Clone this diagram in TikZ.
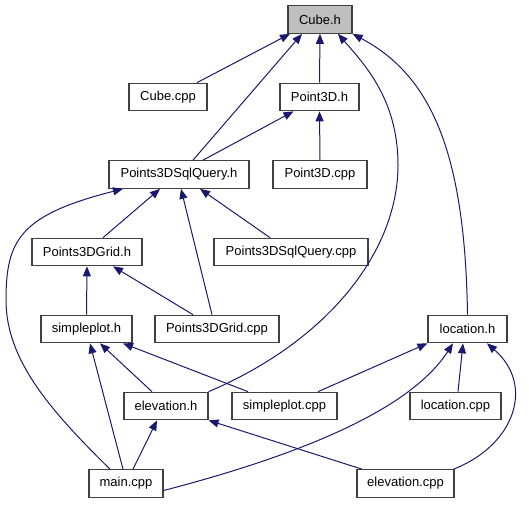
\documentclass[tikz,border=0pt]{standalone}
\usepackage{fontspec}
\setmainfont{Liberation Sans}
\usetikzlibrary{arrows.meta}
\definecolor{edgecol}{HTML}{191970}
\definecolor{boxcol}{HTML}{404040}
\definecolor{hilite}{HTML}{BFBFBF}
\begin{document}
\begin{tikzpicture}[x=1pt,y=-1pt,
  box/.style={draw=boxcol,line width=1.2pt,fill=white,rectangle,inner sep=0pt,minimum height=27.5pt,font=\fontsize{13}{15}\selectfont},
  edge/.style={draw=edgecol,line width=1pt,{Triangle[length=10pt,width=8pt]}-},
]
\useasboundingbox (0,0) rectangle (529,504);
\node[box,fill=hilite,minimum width=64pt] (cubeh) at (320,19.5) {Cube.h};
\node[box,minimum width=78pt] (cubecpp) at (168,97) {Cube.cpp};
\node[box,minimum width=79pt] (point3dh) at (319.5,97) {Point3D.h};
\node[box,minimum width=140pt] (sqlh) at (179,174.5) {Points3DSqlQuery.h};
\node[box,minimum width=94pt] (point3dcpp) at (320,174.5) {Point3D.cpp};
\node[box,minimum width=110pt] (gridh) at (87,252) {Points3DGrid.h};
\node[box,minimum width=154pt] (sqlcpp) at (291,252) {Points3DSqlQuery.cpp};
\node[box,minimum width=91pt] (simploth) at (86.5,329) {simpleplot.h};
\node[box,minimum width=124pt] (gridcpp) at (217,329) {Points3DGrid.cpp};
\node[box,minimum width=79pt] (locationh) at (467.5,329) {location.h};
\node[box,minimum width=84pt] (elevh) at (166,406) {elevation.h};
\node[box,minimum width=105pt] (simplotcpp) at (284.5,406) {simpleplot.cpp};
\node[box,minimum width=91pt] (loccpp) at (455.5,406) {location.cpp};
\node[box,minimum width=74pt] (maincpp) at (126,483.5) {main.cpp};
\node[box,minimum width=97pt] (elevcpp) at (405.5,483.5) {elevation.cpp};

% to Cube.h
\draw[edge] ([xshift=-30pt]cubeh.south) -- ([xshift=29pt]cubecpp.north);
\draw[edge] ([xshift=-18pt]cubeh.south) -- ([xshift=14pt]sqlh.north);
\draw[edge] (cubeh.south) -- (point3dh.north);
\draw[edge] ([xshift=18pt]cubeh.south) .. controls (365,65) and (398,100) .. (398,165)
  .. controls (398,250) and (330,340) .. (elevh.north east);
\draw[edge] (cubeh.south east) .. controls (430,75) and (465,150) .. (locationh.north);
% to Point3D.h
\draw[edge] ([xshift=-26pt]point3dh.south) -- ([xshift=24pt]sqlh.north);
\draw[edge] (point3dh.south) -- (point3dcpp.north);
% to Points3DSqlQuery.h
\draw[edge] ([xshift=-19pt]sqlh.south) -- ([xshift=16pt]gridh.north);
\draw[edge] ([xshift=2pt]sqlh.south) -- ([xshift=-5pt]gridcpp.north);
\draw[edge] ([xshift=21pt]sqlh.south) -- ([xshift=-21pt]sqlcpp.north);
\draw[edge] ([xshift=-56pt]sqlh.south) .. controls (20,215) and (6,240) .. (6,300)
  .. controls (6,360) and (50,410) .. ([xshift=-16pt]maincpp.north);
% to Points3DGrid.h
\draw[edge] (gridh.south) -- (simploth.north);
\draw[edge] ([xshift=26pt]gridh.south) -- ([xshift=-24pt]gridcpp.north);
% to simpleplot.h
\draw[edge] ([xshift=13.5pt]simploth.south) -- ([xshift=-14pt]elevh.north);
\draw[edge] ([xshift=36.5pt]simploth.south) -- ([xshift=-36.5pt]simplotcpp.north);
\draw[edge] ([xshift=3.5pt]simploth.south) -- ([xshift=-3pt]maincpp.north);
% to location.h
\draw[edge] (locationh.south west) -- ([xshift=33.5pt]simplotcpp.north);
\draw[edge] ([xshift=-14.5pt]locationh.south) .. controls (410,410) and (300,455) .. ([yshift=-7pt]maincpp.east);
\draw[edge] ([xshift=-4.5pt]locationh.south) -- ([xshift=2.5pt]loccpp.north);
\draw[edge] ([xshift=19.5pt]locationh.south) .. controls (535,385) and (515,445) .. ([xshift=-1pt]elevcpp.north east);
% to elevation.h
\draw[edge] ([xshift=-9pt]elevh.south) -- ([xshift=7pt]maincpp.north);
\draw[edge] (elevh.south east) -- ([xshift=-43.5pt]elevcpp.north);
\end{tikzpicture}
\end{document}
